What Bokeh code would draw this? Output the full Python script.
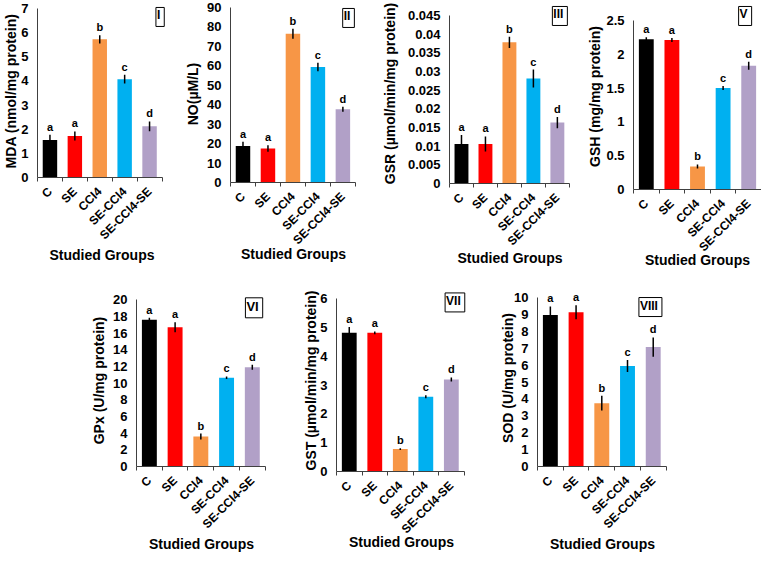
import math
from bokeh.plotting import figure
from bokeh.layouts import row, column, Spacer
from bokeh.models import FixedTicker, Label, Range1d, CustomJSTickFormatter
from bokeh.core.properties import value
from bokeh.embed import file_html
from bokeh.resources import INLINE

# ---------------- data ----------------
groups = ["C", "SE", "CCl4", "SE-CCl4", "SE-CCl4-SE"]
colors = ["#000000", "#FF0000", "#F79646", "#00B0F0", "#B1A0C7"]
letters = ["a", "a", "b", "c", "d"]

mda = [1.55, 1.72, 5.72, 4.07, 2.12]
mda_err = [0.22, 0.19, 0.17, 0.18, 0.2]
no = [18.8, 17.5, 76.5, 59.4, 37.7]
no_err = [2.1, 1.7, 2.6, 2.2, 1.3]
gsr = [0.0106, 0.0106, 0.0378, 0.0281, 0.0163]
gsr_err = [0.0024, 0.002, 0.0015, 0.0024, 0.0015]
gsh = [2.22, 2.21, 0.34, 1.50, 1.83]
gsh_err = [0.03, 0.03, 0.03, 0.03, 0.06]
gpx = [17.6, 16.7, 3.6, 10.66, 11.9]
gpx_err = [0.25, 0.6, 0.35, 0.15, 0.3]
gst = [4.82, 4.82, 0.78, 2.6, 3.2]
gst_err = [0.2, 0.05, 0.03, 0.05, 0.07]
sod = [8.97, 9.13, 3.75, 5.95, 7.07]
sod_err = [0.5, 0.42, 0.43, 0.35, 0.57]

FONT = "Liberation Sans"
AXIS_COLOR = "#404040"
SX = 761 / 772
SY = 555 / 558


def MX(v):
    return (v - 5) * SX


def MY(v):
    return v * SY


def make_panel(vals, errs, ymax, ystep, ytitle, numeral,
               fx0, fx1, fy0, fy1, ax0, ax1, ay0, ay1,
               ytitle_standoff, xtitle_standoff, box_r, box_t, box_font="12px"):
    n = len(groups)
    fl = round(MX(fx0))
    W = round(MX(fx1)) - fl
    ft = round(MY(fy0))
    H = round(MY(fy1)) - ft

    # horizontal frame geometry (pixels inside the canvas)
    FL = round(MX(ax0) - fl)
    ax1p = MX(ax1) - fl
    FR = min(W, round(MX(max(ax1, box_r) + 1) - fl))
    xscale = (ax1p - FL) / n
    x_end = (FR - FL) / xscale

    # vertical frame geometry
    FB = round(MY(ay1) - ft)
    ay0p = max(7.0, MY(ay0) - ft)
    ypix = (FB - ay0p) / ymax
    letter_tops = [ay0p + (ymax - (v + e)) * ypix - 15 for v, e in zip(vals, errs)]
    top_needed = min([ay0p, MY(box_t) - ft - 1] + letter_tops) - 1
    FT = max(1, round(top_needed))
    y_end = (FB - FT) / ypix

    p = figure(width=W, height=H, min_border_left=FL, min_border_right=W - FR,
               min_border_top=FT, min_border_bottom=H - FB,
               x_range=Range1d(0, x_end), y_range=Range1d(0, y_end),
               output_backend="svg", toolbar_location=None)
    p.frame_align = False
    p.outline_line_color = None
    p.xgrid.visible = False
    p.ygrid.visible = False
    p.background_fill_color = "white"
    p.border_fill_color = "white"

    xs = [i + 0.5 for i in range(n)]
    p.vbar(x=xs, top=vals, width=0.58, bottom=0, fill_color=colors, line_color=None)
    p.segment(x0=xs, y0=[v - e for v, e in zip(vals, errs)],
              x1=xs, y1=[v + e for v, e in zip(vals, errs)],
              line_color="black", line_width=1.5)
    p.text(x=xs, y=[v + e for v, e in zip(vals, errs)], text=letters,
           text_align="center", text_baseline="bottom", y_offset=-2,
           text_font=value(FONT), text_font_size="11px", text_font_style="bold",
           text_color="black")

    # x axis
    xa = p.xaxis[0]
    xa.bounds = (0, n)
    xa.ticker = FixedTicker(ticks=xs, minor_ticks=list(range(n + 1)))
    xa.formatter = CustomJSTickFormatter(args=dict(labels=groups),
                                         code="return labels[Math.floor(tick)];")
    xa.major_tick_line_color = None
    xa.major_tick_out = 0
    xa.minor_tick_out = 4
    xa.minor_tick_in = 0
    xa.minor_tick_line_color = AXIS_COLOR
    xa.axis_line_color = AXIS_COLOR
    xa.major_label_orientation = math.pi / 4
    xa.major_label_standoff = 8
    xa.major_label_text_font = FONT
    xa.major_label_text_font_size = "12px"
    xa.major_label_text_font_style = "bold"
    xa.major_label_text_color = "black"
    xa.axis_label = "Studied Groups"
    xa.axis_label_text_font = FONT
    xa.axis_label_text_font_size = "14px"
    xa.axis_label_text_font_style = "bold"
    xa.axis_label_text_color = "black"
    xa.axis_label_standoff = xtitle_standoff

    # y axis
    ya = p.yaxis[0]
    ya.bounds = (0, ymax)
    nt = int(round(ymax / ystep))
    ya.ticker = FixedTicker(ticks=[k * ystep for k in range(nt + 1)])
    ya.formatter = CustomJSTickFormatter(code="return String(Number(tick.toFixed(4)));")
    ya.major_tick_out = 0
    ya.major_tick_in = 0
    ya.minor_tick_line_color = None
    ya.axis_line_color = AXIS_COLOR
    ya.major_label_standoff = 9
    ya.major_label_text_font = FONT
    ya.major_label_text_font_size = "13px"
    ya.major_label_text_font_style = "bold"
    ya.major_label_text_color = "black"
    ya.axis_label = ytitle
    ya.axis_label_text_font = FONT
    ya.axis_label_text_font_size = "14px"
    ya.axis_label_text_font_style = "bold"
    ya.axis_label_text_color = "black"
    ya.axis_label_standoff = ytitle_standoff

    dx = (MX(box_r) - fl) - ax1p - 1
    dy = ay0p - (MY(box_t) - ft) - 1
    lab = Label(x=n, y=ymax, x_units="data", y_units="data", text=numeral,
                x_offset=dx, y_offset=dy,
                text_align="right", text_baseline="top",
                text_font=FONT, text_font_size=box_font, text_font_style="bold",
                text_color="black", border_line_color="black", border_line_width=1,
                background_fill_color="white", padding=(1, 4, 1, 4))
    p.add_layout(lab)
    return p


# top row (reference pixel geometry)
p1 = make_panel(mda, mda_err, 7, 1, "MDA (nmol/mg protein)", "I",
                5, 190, 0, 280, 38.3, 168.7, 8, 178, -1, -3, 172, 6)
p2 = make_panel(no, no_err, 90, 10, "NO(\u00b5M/L)", "II",
                190, 388, 0, 280, 238, 365, 6, 183, 3, -9, 365, 7)
p3 = make_panel(gsr, gsr_err, 0.045, 0.005, "GSR (\u00b5mol/min/mg protein)", "III",
                388, 590, 0, 280, 452, 582, 15, 184, 7, -6, 581, 5)
p4 = make_panel(gsh, gsh_err, 2.5, 0.5, "GSH (mg/mg protein)", "V",
                590, 777, 0, 280, 647, 777, 20, 190, 0, -10, 768, 5)

# bottom row
p5 = make_panel(gpx, gpx_err, 20, 2, "GPx (U/mg protein)", "VI",
                90, 290, 280, 558, 142.7, 273.5, 301, 471.7, 3, -3, 272, 298, "13px")
p6 = make_panel(gst, gst_err, 6, 1, "GST (\u00b5mol/min/mg protein)", "VII",
                290, 490, 280, 558, 346.3, 475.3, 300, 473.3, -2, -10, 477, 293)
p7 = make_panel(sod, sod_err, 10, 1, "SOD (U/mg protein)", "VIII",
                490, 700, 280, 558, 550.2, 680.2, 299, 476.7, -5, -3, 677, 298)

top_row = row(p1, p2, p3, p4, spacing=0)
bottom_row = row(Spacer(width=round(MX(90)) - round(MX(5)), height=10), p5, p6, p7, spacing=0)
layout = column(top_row, bottom_row, spacing=0)

open("out.html", "w").write(file_html(layout, INLINE))
